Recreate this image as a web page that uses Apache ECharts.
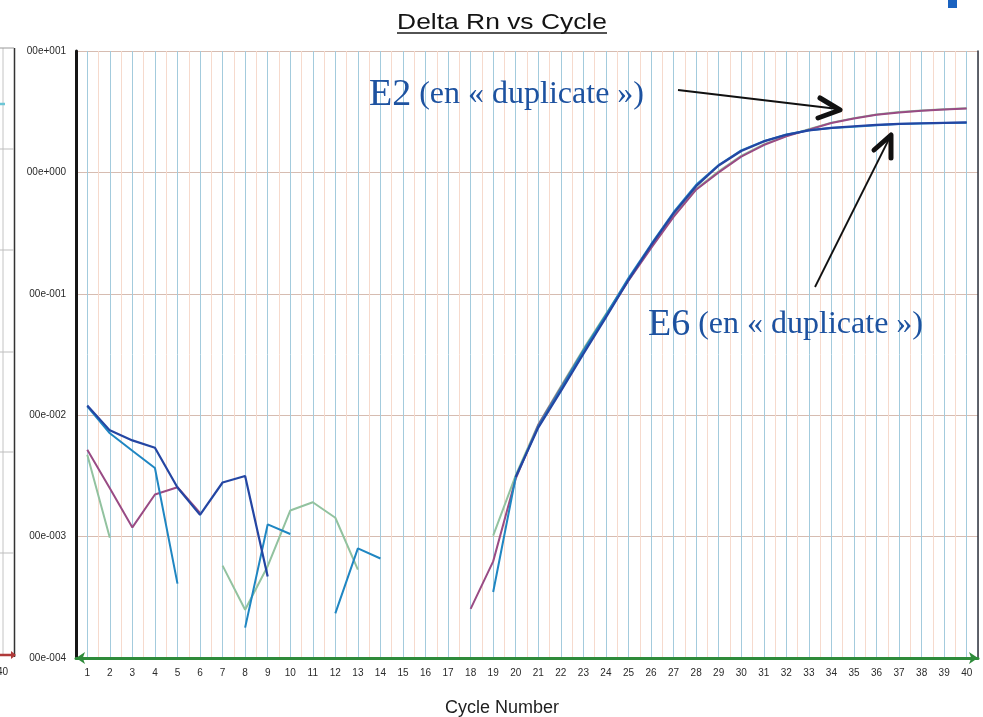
<!DOCTYPE html>
<html>
<head>
<meta charset="utf-8">
<title>Delta Rn vs Cycle</title>
<script src="https://cdn.jsdelivr.net/npm/echarts@6/dist/echarts.min.js"></script>
<style>
  html, body { margin: 0; padding: 0; background: #ffffff; }
  #chart { width: 983px; height: 717px; }
</style>
</head>
<body>
<div id="chart"></div>
<script>
// Cycle numbers on the x axis
const cycles = [1, 2, 3, 4, 5, 6, 7, 8, 9, 10, 11, 12, 13, 14, 15, 16, 17, 18, 19, 20,
                21, 22, 23, 24, 25, 26, 27, 28, 29, 30, 31, 32, 33, 34, 35, 36, 37, 38, 39, 40];

// Delta Rn per cycle for each well (null = non-positive value, not drawn on log scale)
const e6WellA = [0.0120, 0.0075, 0.0062, 0.0054, 0.00254, 0.00151, 0.00279, 0.00316, 0.00047, null,
                 null, null, null, null, null, null, null, null, null, 0.0031,
                 0.0079, 0.0158, 0.032, 0.064, 0.13, 0.25, 0.46, 0.77, 1.14, 1.50,
                 1.80, 2.04, 2.22, 2.33, 2.40, 2.46, 2.51, 2.54, 2.56, 2.58];

const e6WellB = [0.0118, 0.0071, 0.0051, 0.00367, 0.00041, null, null, 0.000178, 0.00126, 0.00105,
                 null, 0.000233, 0.0008, 0.00066, null, null, null, null, 0.00035, 0.0031,
                 0.0081, 0.0165, 0.034, 0.067, 0.135, 0.255, 0.47, 0.79, 1.15, 1.52,
                 1.81, 2.05, 2.22, 2.32, 2.38, 2.45, 2.50, 2.53, 2.55, 2.57];

const e2WellA = [0.0052, 0.0025, 0.00119, 0.00222, 0.00255, 0.00157, null, null, null, null,
                 null, null, null, null, null, null, null, 0.000254, 0.000625, 0.0030,
                 0.0083, 0.0168, 0.034, 0.066, 0.128, 0.238, 0.43, 0.72, 1.0, 1.35,
                 1.68, 1.98, 2.25, 2.55, 2.78, 2.98, 3.12, 3.22, 3.30, 3.36];

const e2WellB = [0.00473, 0.00098, null, null, null, null, 0.000577, 0.00025, 0.00057, 0.00164,
                 0.00192, 0.00143, 0.000535, null, null, null, null, null, 0.00102, 0.0032,
                 0.0084, 0.0172, 0.035, 0.068, 0.13, 0.242, 0.44, 0.73, 1.02, 1.37,
                 1.70, 2.0, 2.27, 2.57, 2.80, 3.0, 3.14, 3.24, 3.31, 3.38];

// Log-axis tick labels, from 1e-4 up to 1e+1
const yTickLabels = ['00e-004', '00e-003', '00e-002', '00e-001', '00e+000', '00e+001'];

// Annotation texts
const labelE2 = ['E2', '(en « duplicate »)'];
const labelE6 = ['E6', '(en « duplicate »)'];

const toPairs = vals => cycles.map((c, i) => [c, vals[i] === null ? '-' : vals[i]]);

const chart = echarts.init(document.getElementById('chart'), null, { renderer: 'canvas' });

const annoColor = '#1d52a0';
const serif = '"Liberation Serif", "Times New Roman", serif';

function lineSeries(name, vals, color, width, z) {
  return {
    name: name,
    type: 'line',
    data: toPairs(vals),
    showSymbol: false,
    connectNulls: false,
    smooth: false,
    z: z,
    lineStyle: { color: color, width: width },
    itemStyle: { color: color },
    emphasis: { disabled: true }
  };
}

function annotation(parts, x, y) {
  return {
    type: 'text', x: x, y: y, z: 20,
    style: {
      text: '{a|' + parts[0] + '}{b| ' + parts[1] + '}',
      textVerticalAlign: 'bottom',
      fill: annoColor,
      rich: {
        a: { fontSize: 38, fontFamily: serif, fill: annoColor, color: annoColor },
        b: { fontSize: 32, fontFamily: serif, fill: annoColor, color: annoColor }
      }
    }
  };
}

const option = {
  backgroundColor: '#ffffff',
  animation: false,
  grid: { left: 76, right: 5, top: 51, bottom: 59, containLabel: false },
  xAxis: {
    type: 'value',
    min: 0.5,
    max: 40.5,
    interval: 0.5,
    axisLine: {
      show: true,
      lineStyle: { color: '#2e8b3a', width: 3 },
      symbol: ['arrow', 'arrow'],
      symbolSize: [9, 9]
    },
    axisTick: { show: false },
    axisLabel: {
      color: '#2a2a2a',
      fontSize: 10,
      fontFamily: '"Liberation Sans", Arial, sans-serif',
      margin: 10,
      formatter: v => {
        const idx = cycles.indexOf(v);
        return idx >= 0 ? String(cycles[idx]) : '';
      }
    },
    splitLine: {
      show: true,
      lineStyle: { color: ['#f6dacd', '#a3cbdd'], width: 1 }
    }
  },
  yAxis: [
    {
      type: 'log',
      logBase: 10,
      min: 0.0001,
      max: 10,
      axisLine: { show: true, lineStyle: { color: '#151515', width: 3 } },
      axisTick: { show: false },
      axisLabel: {
        color: '#2a2a2a',
        fontSize: 10,
        fontFamily: '"Liberation Sans", Arial, sans-serif',
        margin: 10,
        formatter: v => {
          const exp = Math.round(Math.log10(v));
          return yTickLabels[exp + 4] || '';
        }
      },
      splitLine: { show: true, lineStyle: { color: '#d6bcb1', width: 1.2 } }
    },
    {
      type: 'log',
      logBase: 10,
      min: 0.0001,
      max: 10,
      position: 'right',
      axisLine: { show: true, onZero: false, lineStyle: { color: '#2a3340', width: 1.5 } },
      axisTick: { show: false },
      axisLabel: { show: false },
      splitLine: { show: false }
    }
  ],
  series: [
    lineSeries('E2 a', e2WellB, '#92c29f', 2, 2),
    lineSeries('E2 b', e2WellA, '#994b84', 2, 3),
    lineSeries('E6 a', e6WellB, '#1f86c2', 2, 4),
    lineSeries('E6 b', e6WellA, '#2446a3', 2.2, 5)
  ],
  graphic: [
    // chart title with underline
    {
      type: 'text', x: 502, y: 23, scaleX: 1.2, z: 10,
      style: {
        text: 'Delta Rn vs Cycle',
        font: '22px "Liberation Sans", Arial, sans-serif',
        fill: '#141414',
        textAlign: 'center',
        textVerticalAlign: 'middle'
      }
    },
    {
      type: 'line', z: 10,
      shape: { x1: 397, y1: 33, x2: 607, y2: 33 },
      style: { stroke: '#1a1a1a', lineWidth: 1.5 }
    },
    // x axis title
    {
      type: 'text', x: 502, y: 708, z: 10,
      style: {
        text: 'Cycle Number',
        font: '18px "Liberation Sans", Arial, sans-serif',
        fill: '#1e1e1e',
        textAlign: 'center',
        textVerticalAlign: 'middle'
      }
    },
    annotation(labelE2, 369, 114),
    annotation(labelE6, 648, 344),
    // arrow towards the E2 plateau
    {
      type: 'line', z: 20,
      shape: { x1: 678, y1: 90, x2: 838, y2: 109 },
      style: { stroke: '#111', lineWidth: 2 }
    },
    {
      type: 'polyline', z: 20,
      shape: { points: [[820, 98], [840, 110], [818, 118]] },
      style: { stroke: '#111', lineWidth: 5, lineCap: 'round', lineJoin: 'round', fill: null }
    },
    // arrow towards the E6 plateau
    {
      type: 'line', z: 20,
      shape: { x1: 815, y1: 287, x2: 890, y2: 137 },
      style: { stroke: '#111', lineWidth: 1.8 }
    },
    {
      type: 'polyline', z: 20,
      shape: { points: [[874, 150], [891, 135], [891, 158]] },
      style: { stroke: '#111', lineWidth: 5, lineCap: 'round', lineJoin: 'round', fill: null }
    },
    // corner marker, top right
    {
      type: 'rect', z: 20,
      shape: { x: 948, y: 0, width: 9, height: 8 },
      style: { fill: '#1a62c0' }
    },
    // neighbouring panel edge on the left
    {
      type: 'group', z: 5,
      children: [
        { type: 'line', shape: { x1: 3, y1: 48, x2: 3, y2: 655 }, style: { stroke: '#c4c4c4', lineWidth: 1 } },
        { type: 'line', shape: { x1: 14.5, y1: 48, x2: 14.5, y2: 657 }, style: { stroke: '#333', lineWidth: 1.5 } },
        { type: 'line', shape: { x1: 0, y1: 48, x2: 14, y2: 48 }, style: { stroke: '#999', lineWidth: 1 } },
        { type: 'line', shape: { x1: 0, y1: 149, x2: 14, y2: 149 }, style: { stroke: '#bdbdbd', lineWidth: 1 } },
        { type: 'line', shape: { x1: 0, y1: 250, x2: 14, y2: 250 }, style: { stroke: '#bdbdbd', lineWidth: 1 } },
        { type: 'line', shape: { x1: 0, y1: 352, x2: 14, y2: 352 }, style: { stroke: '#bdbdbd', lineWidth: 1 } },
        { type: 'line', shape: { x1: 0, y1: 452, x2: 14, y2: 452 }, style: { stroke: '#bdbdbd', lineWidth: 1 } },
        { type: 'line', shape: { x1: 0, y1: 553, x2: 14, y2: 553 }, style: { stroke: '#bdbdbd', lineWidth: 1 } },
        { type: 'line', shape: { x1: 0, y1: 104, x2: 5, y2: 104 }, style: { stroke: '#6cc6d6', lineWidth: 2.5 } },
        { type: 'line', shape: { x1: 0, y1: 655, x2: 12, y2: 655 }, style: { stroke: '#b03a3a', lineWidth: 2.5 } },
        { type: 'polygon', shape: { points: [[11, 651], [16, 655], [11, 659]] }, style: { fill: '#b03a3a' } },
        {
          type: 'text', x: -3, y: 672,
          style: { text: '40', font: '10px "Liberation Sans", Arial, sans-serif', fill: '#2a2a2a', textVerticalAlign: 'middle' }
        }
      ]
    }
  ]
};

chart.setOption(option);
</script>
</body>
</html>
